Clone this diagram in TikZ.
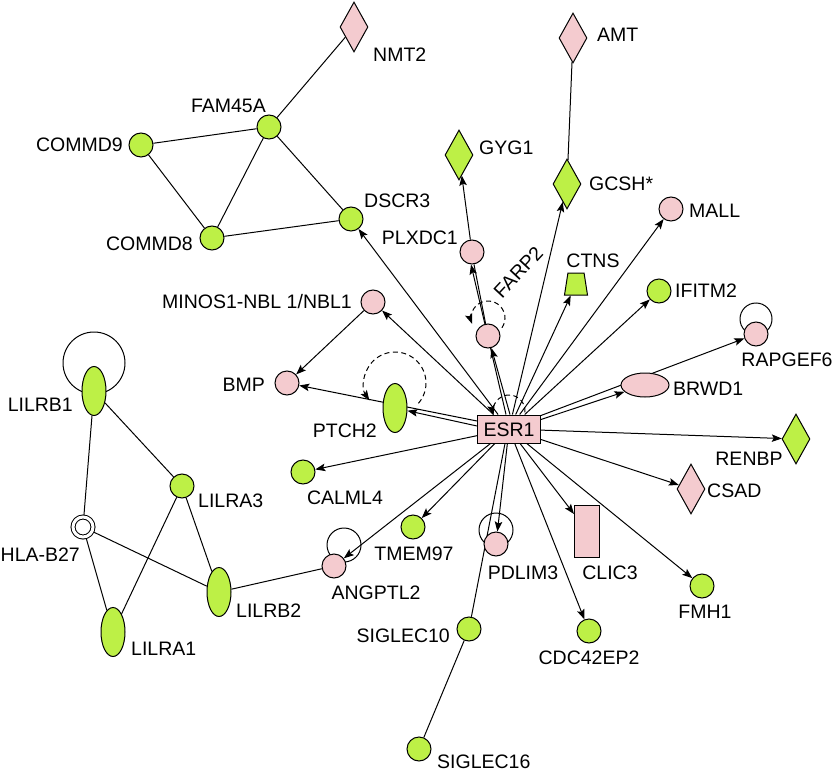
\documentclass[tikz,border=0pt]{standalone}
\usepackage{fontspec}
\setmainfont{Liberation Sans}
\usepackage{tikz}
\usetikzlibrary{shapes.geometric}
\usetikzlibrary{arrows.meta}
\usetikzlibrary{backgrounds}
\definecolor{ipagreen}{HTML}{BDF046}
\definecolor{ipapink}{HTML}{F4CBCF}
\tikzset{
  base/.style={draw, line width=1pt, inner sep=0pt},
  gcirc/.style={base, circle, fill=ipagreen, minimum size=24pt},
  pcirc/.style={base, circle, fill=ipapink, minimum size=24pt},
  gdiam/.style={base, diamond, fill=ipagreen, minimum width=28pt, minimum height=50pt},
  pdiam/.style={base, diamond, fill=ipapink, minimum width=28pt, minimum height=50pt},
  gell/.style={base, ellipse, fill=ipagreen, minimum width=24pt, minimum height=49pt},
  lbl/.style={font=\fontsize{19.5}{22}\selectfont, inner sep=0pt, text height=14pt, text depth=0pt},
  arr/.style={-{Stealth[length=10pt,width=7.5pt,inset=2pt]}},
  selfdash/.style={dash pattern=on 5pt off 3.5pt}
}

\begin{document}
\begin{tikzpicture}[x=1pt, y=-1pt]
      \useasboundingbox (0,0) rectangle (835,773);
      % hub
      \node[base, rectangle, fill=ipapink, minimum width=63pt, minimum height=28pt, lbl, inner sep=0pt] (esr1) at (509,429) {ESR1};
      % top left group
      \node[pdiam] (nmt2) at (354,27) {};
      \node[gcirc] (fam45a) at (269,127) {};
      \node[gcirc] (commd9) at (141,145) {};
      \node[gcirc] (commd8) at (212,238) {};
      \node[gcirc] (dscr3) at (351,219) {};
      \node[lbl, anchor=west] (nmt2-t) at (373,55) {NMT2};
      \node[lbl, anchor=east] (fam45a-t) at (266,106) {FAM45A};
      \node[lbl, anchor=east] (commd9-t) at (123,145) {COMMD9};
      \node[lbl, anchor=east] (commd8-t) at (193,243) {COMMD8};
      \node[lbl, anchor=west] (dscr3-t) at (364,200) {DSCR3};
      % top
      \node[pdiam] (amt) at (573,38) {};
      \node[gdiam] (gcsh) at (567,184) {};
      \node[gdiam] (gyg1) at (459,155) {};
      \node[pcirc] (plxdc1) at (472,252) {};
      \node[pcirc] (farp2) at (488,336) {};
      \node[draw, line width=1pt, inner sep=3pt, trapezium, trapezium angle=78, trapezium stretches=true, fill=ipagreen, minimum width=23pt, minimum height=22pt] (ctns) at (576,284) {};
      \node[pcirc] (mall) at (671,209) {};
      \node[gcirc] (ifitm2) at (659,291) {};
      \node[lbl, anchor=west] (amt-t) at (597,35) {AMT};
      \node[lbl, anchor=west] (gcsh-t) at (589,183) {GCSH*};
      \node[lbl, anchor=west] (gyg1-t) at (479,147) {GYG1};
      \node[lbl, anchor=east] (plxdc1-t) at (458,237) {PLXDC1};
      \node[lbl, rotate=47] (farp2-t) at (518,272) {FARP2};
      \node[lbl] (ctns-t) at (593,260) {CTNS};
      \node[lbl, anchor=west] (mall-t) at (689,210) {MALL};
      \node[lbl, anchor=west] (ifitm2-t) at (675,290) {IFITM2};
      % right
      \node[pcirc] (rapgef6) at (756,334) {};
      \node[base, ellipse, fill=ipapink, minimum width=48pt, minimum height=24pt] (brwd1) at (645,385) {};
      \node[gdiam] (renbp) at (796,439) {};
      \node[pdiam] (csad) at (691,489) {};
      \node[gcirc] (fmh1) at (702,586) {};
      \node[lbl] (rapgef6-t) at (787,359) {RAPGEF6};
      \node[lbl, anchor=west] (brwd1-t) at (673,388) {BRWD1};
      \node[lbl] (renbp-t) at (749,458) {RENBP};
      \node[lbl, anchor=west] (csad-t) at (707,490) {CSAD};
      \node[lbl] (fmh1-t) at (705,611) {FMH1};
      % bottom
      \node[gcirc] (cdc42ep2) at (589,631) {};
      \node[base, rectangle, fill=ipapink, minimum width=25pt, minimum height=52pt] (clic3) at (587,531) {};
      \node[pcirc] (pdlim3) at (496,544) {};
      \node[gcirc] (siglec10) at (469,629) {};
      \node[gcirc] (siglec16) at (419,749) {};
      \node[gcirc] (tmem97) at (413,527) {};
      \node[pcirc] (angptl2) at (334,566) {};
      \node[gcirc] (calml4) at (303,472) {};
      \node[lbl] (cdc42ep2-t) at (589,657) {CDC42EP2};
      \node[lbl] (clic3-t) at (610,572) {CLIC3};
      \node[lbl] (pdlim3-t) at (523,572) {PDLIM3};
      \node[lbl, anchor=east] (siglec10-t) at (450,635) {SIGLEC10};
      \node[lbl, anchor=west] (siglec16-t) at (437,761) {SIGLEC16};
      \node[lbl] (tmem97-t) at (414,553) {TMEM97};
      \node[lbl] (angptl2-t) at (376,592) {ANGPTL2};
      \node[lbl] (calml4-t) at (345,497) {CALML4};
      % left of hub
      \node[gell] (ptch2) at (395,408) {};
      \node[pcirc] (bmp) at (287,383) {};
      \node[pcirc] (minos) at (373,302) {};
      \node[lbl, anchor=east] (ptch2-t) at (377,430) {PTCH2};
      \node[lbl, anchor=east] (bmp-t) at (265,384) {BMP};
      \node[lbl, anchor=east] (minos-t) at (352,301) {MINOS1-NBL 1/NBL1};
      % LILR group
      \node[gell] (lilrb1) at (94,391) {};
      \node[gcirc] (lilra3) at (182,486) {};
      \node[base, circle, fill=white, double, double distance=3pt, minimum size=20pt] (hla) at (83,527) {};
      \node[gell] (lilrb2) at (219,592) {};
      \node[gell] (lilra1) at (113,632) {};
      \node[lbl, anchor=east] (lilrb1-t) at (73,404) {LILRB1};
      \node[lbl, anchor=west] (lilra3-t) at (198,500) {LILRA3};
      \node[lbl, anchor=east] (hla-t) at (80,554) {HLA-B27};
      \node[lbl, anchor=west] (lilrb2-t) at (236,610) {LILRB2};
      \node[lbl, anchor=west] (lilra1-t) at (131,648) {LILRA1};

      \begin{scope}[on background layer]
      \begin{scope}[line width=1pt]
        % plain links
        \draw (nmt2) -- (fam45a);
        \draw (fam45a) -- (commd9);
        \draw (fam45a) -- (commd8);
        \draw (fam45a) -- (dscr3);
        \draw (commd9) -- (commd8);
        \draw (commd8) -- (dscr3);
        \draw (amt) -- (gcsh);
        \draw (lilrb1) -- (hla);
        \draw (lilrb1) -- (lilra3);
        \draw (lilra3) -- (lilra1);
        \draw (lilra3) -- (lilrb2);
        \draw (hla) -- (lilra1);
        \draw (hla) -- (lilrb2);
        \draw (lilrb2) -- (angptl2);
        \draw (siglec10) -- (siglec16);
        \draw ([xshift=-4pt]esr1.south) -- (siglec10);
        \draw (farp2) -- ([xshift=2pt]plxdc1.south);
        % arrows out of the hub
        \draw[arr] (esr1) -- (dscr3);
        \draw[arr] (esr1) -- (minos);
        \draw[arr] (minos) -- (bmp);
        \draw[arr] ([yshift=8pt]esr1.west) -- (bmp);
        \draw[arr] ([yshift=3pt]esr1.west) -- (ptch2);
        \draw[arr] (esr1) -- (calml4);
        \draw[arr] (esr1) -- (tmem97);
        \draw[arr] (esr1) -- (angptl2);
        \draw[arr] (esr1) -- (pdlim3);
        \draw[arr] (esr1) -- (clic3);
        \draw[arr] (esr1) -- (cdc42ep2);
        \draw[arr] (esr1) -- (fmh1);
        \draw[arr] (esr1) -- (csad);
        \draw[arr] (esr1) -- (renbp);
        \draw[arr] ([yshift=-5pt]esr1.north east) -- (brwd1);
        \draw[arr] ([yshift=-1pt]esr1.north east) -- (rapgef6);
        \draw[arr] (esr1) -- (ifitm2);
        \draw[arr] (esr1) -- (mall);
        \draw[arr] (esr1) -- (ctns);
        \draw[arr] (esr1) -- (gcsh);
        \draw[arr] ([xshift=1pt]esr1.north) -- (farp2);
        \draw[arr] ([xshift=-3pt]esr1.north) -- ([xshift=-1pt]plxdc1.south);
        \draw[arr] (plxdc1) -- (gyg1);
        % self loops
        \draw ([yshift=28pt]lilrb1.center) circle (31pt);
        \draw ([yshift=15pt]rapgef6.center) circle (16pt);
        \draw ([yshift=14pt]pdlim3.center) circle (17pt);
        \draw ([shift={(10pt,21pt)}]angptl2.center) circle (17pt);
        \draw[selfdash, arr] ([yshift=25pt]ptch2.center) ++(-41:31pt) arc[start angle=-41, end angle=214, radius=31pt];
        \draw[selfdash, arr] ([yshift=18pt]farp2.center) ++(-35:17pt) arc[start angle=-35, end angle=200, radius=17pt];
        \draw[selfdash, arr] ([yshift=18pt]esr1.center) ++(-5:16pt) arc[start angle=-5, end angle=195, radius=16pt];
      \end{scope}
      \end{scope}
    \end{tikzpicture}
\end{document}
